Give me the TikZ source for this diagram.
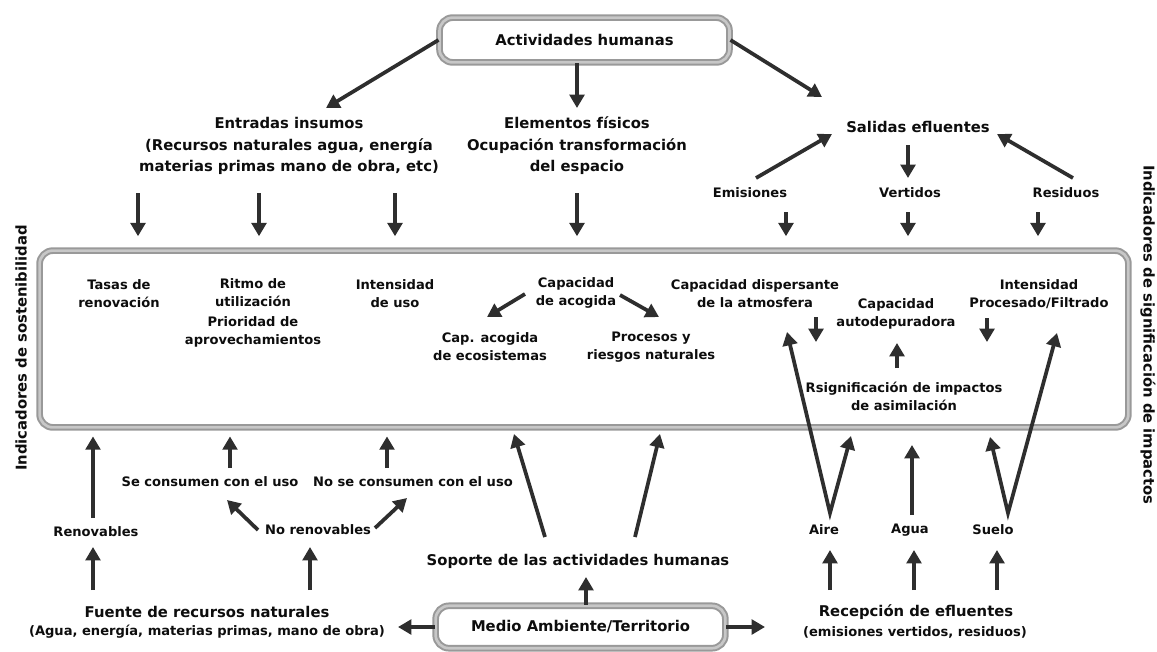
\documentclass[tikz,border=0pt]{standalone}
\usepackage{fontspec}
\setmainfont{DejaVu Sans}
\usetikzlibrary{arrows.meta,shadows}

\begin{document}
\begin{tikzpicture}[x=0.75pt, y=-0.75pt,
  lbl/.style={font=\bfseries\fontsize{9.8}{13.5}\selectfont, text=black!95, align=center, inner sep=0pt},
  head/.style={lbl, font=\bfseries\fontsize{11.1}{16.1}\selectfont},
  rbox/.style={head, rounded corners=10pt, draw=black!40, line width=1.5pt,
               double=black!22, double distance=2pt, fill=white,
               drop shadow={opacity=0.35, shadow xshift=1.2pt, shadow yshift=-1.8pt}},
  flow/.style={-{Triangle[length=10pt,width=11pt]}, draw=black!82, line width=2.8pt},
  vflow/.style={flow, {Triangle[length=10pt,width=11pt]}-{Triangle[length=10pt,width=11pt]}}
]
\useasboundingbox (0,0) rectangle (1157,651);

% boxes
\node[rbox, minimum width=217.5pt, minimum height=33.6pt] (acti) at (584.5,40) {Actividades humanas};
\node[rbox, minimum width=816.6pt, minimum height=132.6pt] (indic) at (584,339) {};
\node[rbox, minimum width=217.3pt, minimum height=31.8pt] (medio) at (580.5,627) {Medio Ambiente/Territorio};

% upper labels
\node[head] (entr) at (289,146) {Entradas insumos\\(Recursos naturales agua, energía\\materias primas mano de obra, etc)};
\node[head] (elem) at (577,146) {Elementos físicos\\Ocupación transformación\\del espacio};
\node[head] (sal)  at (918,127) {Salidas efluentes};
\node[lbl]  (emis) at (750,193) {Emisiones};
\node[lbl]  (vert) at (910,193) {Vertidos};
\node[lbl]  (resi) at (1066,193) {Residuos};

% indicators inside the big box
\node[lbl] (tasas) at (119,294) {Tasas de\\renovación};
\node[lbl] (ritmo) at (253,313) {Ritmo de\\utilización\\[1.5pt]Prioridad de\\aprovechamientos};
\node[lbl] (inten) at (395,294) {Intensidad\\de uso};
\node[lbl] (capa)  at (576,293) {Capacidad\\de acogida};
\node[lbl] (ecos)  at (490,347) {Cap. acogida\\de ecosistemas};
\node[lbl] (proc)  at (651,347) {Procesos y\\riesgos naturales};
\node[lbl] (disp)  at (755,294) {Capacidad dispersante\\de la atmosfera};
\node[lbl] (auto)  at (896,314) {Capacidad\\autodepuradora};
\node[lbl] (rsig)  at (904,396) {Rsignificación de impactos\\de asimilación};
\node[lbl] (filt)  at (1039,294) {Intensidad\\Procesado/Filtrado};

% side titles
\node[head, rotate=90]  (sost)  at (21,348) {Indicadores de sostenibilidad};
\node[head, rotate=-90] (signi) at (1148,335) {Indicadores de significación de impactos};

% lower labels
\node[lbl]  (reno)      at (96,532)  {Renovables};
\node[lbl]  (secon)     at (210,482) {Se consumen con el uso};
\node[lbl]  (nosecon)   at (413,482) {No se consumen con el uso};
\node[lbl]  (noren)     at (318,530) {No renovables};
\node[head] (fuente)    at (207,612) {Fuente de recursos naturales};
\node[lbl]  (fuentedet) at (207,632) {(Agua, energía, materias primas, mano de obra)};
\node[head] (soporte)   at (578,561) {Soporte de las actividades humanas};
\node[head] (recep)     at (916,612) {Recepción de efluentes};
\node[lbl]  (recepdet)  at (915,632) {(emisiones vertidos, residuos)};
\node[lbl]  (aire)      at (824,530) {Aire};
\node[lbl]  (agua)      at (910,530) {Agua};
\node[lbl]  (suelo)     at (993,530) {Suelo};

% connector end points
\coordinate (entrtip)  at (326,108);
\coordinate (elemtip)  at (577,108);
\coordinate (saltip)   at (822,97);
\coordinate (emisfoot) at (756,178);  \coordinate (emistip) at (832,134);
\coordinate (salfoot)  at (908,145);  \coordinate (verttip) at (908,178);
\coordinate (resifoot) at (1073,178); \coordinate (resitip) at (997,134);
\coordinate (caplfoot) at (525,294);  \coordinate (capltip) at (487,317);
\coordinate (caprfoot) at (620,295);  \coordinate (caprtip) at (659,317);
\coordinate (dispfoot) at (816,317);  \coordinate (disptip) at (816,342);
\coordinate (rsigfoot) at (897,368);  \coordinate (rsigtip) at (897,343);
\coordinate (filtfoot) at (987,318);  \coordinate (filttip) at (987,342);
\coordinate (norenl)   at (258,530);  \coordinate (secontip) at (227,500);
\coordinate (norenr)   at (375,528);  \coordinate (nosecontip) at (407,498);
\coordinate (renofoot) at (93,590);   \coordinate (renotip) at (93,547);
\coordinate (norenfoot) at (310,590); \coordinate (norentip) at (310,547);
\coordinate (soporl)   at (545,537);  \coordinate (soporltip) at (514,434);
\coordinate (soporr)   at (635,537);  \coordinate (soporrtip) at (660,434);
\coordinate (sopotip)  at (586,577);
\coordinate (fuentetip) at (398,627);
\coordinate (receptip) at (765,627);
\coordinate (airev)    at (830,513);  \coordinate (airetipa) at (787,332); \coordinate (airetipb) at (851,436);
\coordinate (aguafoot) at (912,515);  \coordinate (aguatip) at (912,445);
\coordinate (suelov)   at (1008,513); \coordinate (suelotipa) at (990,437); \coordinate (suelotipb) at (1057,333);

% from Actividades humanas
\draw[flow] (acti.west) -- (entrtip);
\draw[flow] (acti.south -| elemtip) -- (elemtip);
\draw[flow] (acti.east) -- (saltip);

% outputs
\draw[flow] (emisfoot) -- (emistip);
\draw[flow] (salfoot) -- (verttip);
\draw[flow] (resifoot) -- (resitip);

% into the box from above
\foreach \n/\x/\y in {a/138/193, b/259/193, c/395/193, d/577/193, e/786/212, f/908/212, g/1038/212} {
  \coordinate (in\n) at (\x,\y);
  \draw[flow, shorten >=10pt] (in\n) -- (in\n |- indic.north);
}

% inside the box
\draw[flow] (caplfoot) -- (capltip);
\draw[flow] (caprfoot) -- (caprtip);
\draw[flow] (dispfoot) -- (disptip);
\draw[flow] (rsigfoot) -- (rsigtip);
\draw[flow] (filtfoot) -- (filttip);

% into the box from below
\foreach \n/\x/\y in {h/93/518, i/230/468, j/387/468} {
  \coordinate (up\n) at (\x,\y);
  \draw[flow, shorten >=6pt] (up\n) -- (up\n |- indic.south);
}
\draw[flow] (norenl) -- (secontip);
\draw[flow] (norenr) -- (nosecontip);
\draw[flow] (renofoot) -- (renotip);
\draw[flow] (norenfoot) -- (norentip);
\draw[flow] (soporl) -- (soporltip);
\draw[flow] (soporr) -- (soporrtip);

% from Medio Ambiente
\draw[flow] (medio.north -| sopotip) -- (sopotip);
\draw[flow] (medio.west) -- (fuentetip);
\draw[flow] (medio.east) -- (receptip);

% reception of effluents
\foreach \x in {830,914,997} {
  \coordinate (rc\x) at (\x,590);
  \coordinate (rt\x) at (\x,550);
  \draw[flow] (rc\x) -- (rt\x);
}
\draw[vflow] (airetipa) -- (airev) -- (airetipb);
\draw[flow] (aguafoot) -- (aguatip);
\draw[vflow] (suelotipa) -- (suelov) -- (suelotipb);
\end{tikzpicture}
\end{document}
